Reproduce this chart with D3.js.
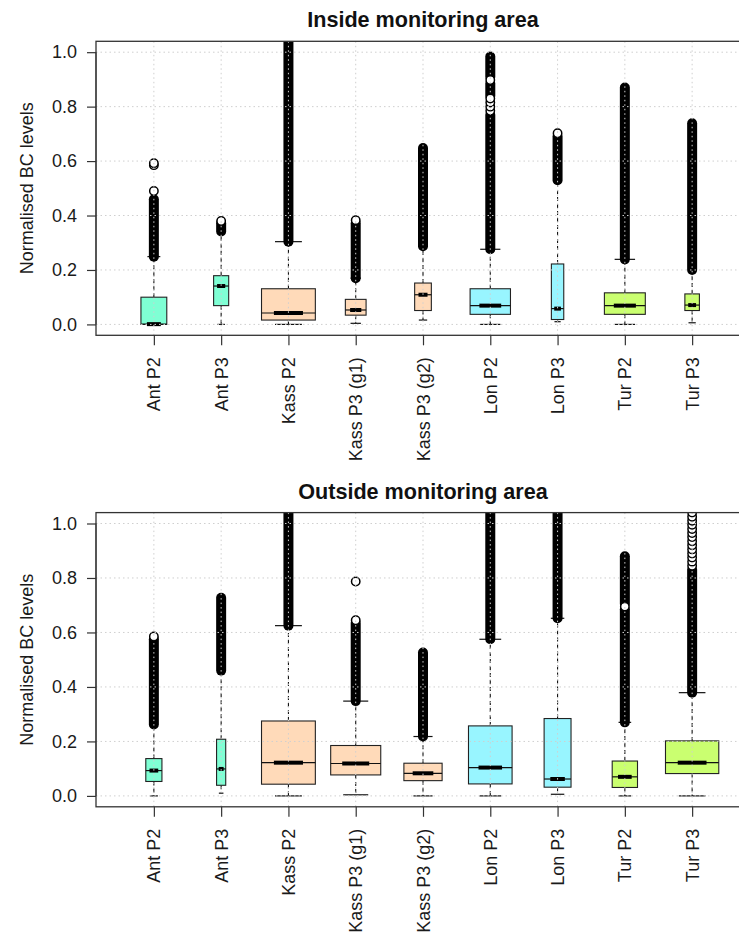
<!DOCTYPE html>
<html>
<head>
<meta charset="utf-8">
<script src="https://cdnjs.cloudflare.com/ajax/libs/d3/7.8.5/d3.min.js"></script>
<style>
  body { margin: 0; background: #fff; }
  svg text { font-family: "Liberation Sans", Arial, Helvetica, sans-serif; }
</style>
</head>
<body>
<svg id="chart" width="739" height="938"></svg>
<script>
// categories, colours, ticks
const sites = ["Ant P2", "Ant P3", "Kass P2", "Kass P3 (g1)", "Kass P3 (g2)", "Lon P2", "Lon P3", "Tur P2", "Tur P3"];
const siteFill = ["#7FFFD4", "#7FFFD4", "#FFDAB9", "#FFDAB9", "#FFDAB9", "#98F5FF", "#98F5FF", "#CAFF70", "#CAFF70"];
const yTicks = [0, 0.2, 0.4, 0.6, 0.8, 1.0];

// inside monitoring area
const inLower = [0, 0, 0, 0.004, 0.016, 0, 0.01, 0, 0.006];
const inQ1 = [0, 0.069, 0.016, 0.034, 0.051, 0.037, 0.018, 0.037, 0.051];
const inMedian = [0.001, 0.141, 0.042, 0.053, 0.109, 0.069, 0.058, 0.069, 0.071];
const inQ3 = [0.1, 0.179, 0.131, 0.092, 0.152, 0.131, 0.222, 0.116, 0.112];
const inUpper = [0.249, 0.341, 0.304, 0.17, 0.287, 0.276, 0.52, 0.239, 0.2];
const inWidth = [0.48, 0.28, 1.0, 0.385, 0.31, 0.75, 0.23, 0.76, 0.27];
const inOutlierRuns = [
  [[0.249, 0.46]],
  [[0.341, 0.372]],
  [[0.304, 1.1]],
  [[0.17, 0.372]],
  [[0.287, 0.648]],
  [[0.276, 0.77], [0.84, 0.885], [0.91, 0.984]],
  [[0.53, 0.69]],
  [[0.239, 0.87]],
  [[0.2, 0.739]],
];
const inOutlierPoints = [
  [0.49, 0.585, 0.592],
  [0.38],
  [],
  [0.383],
  [],
  [0.785, 0.8, 0.815, 0.83, 0.898],
  [0.702],
  [],
  [],
];

// outside monitoring area
const outLower = [0, 0.01, 0, 0.004, 0, 0, 0.006, 0, 0];
const outQ1 = [0.053, 0.039, 0.043, 0.077, 0.056, 0.044, 0.032, 0.031, 0.082];
const outMedian = [0.093, 0.099, 0.122, 0.119, 0.083, 0.104, 0.062, 0.07, 0.122];
const outQ3 = [0.137, 0.208, 0.275, 0.185, 0.12, 0.257, 0.284, 0.128, 0.202];
const outUpper = [0.262, 0.46, 0.625, 0.348, 0.218, 0.575, 0.652, 0.27, 0.379];
const outWidth = [0.3, 0.17, 1.0, 0.93, 0.71, 0.81, 0.5, 0.47, 0.99];
const outOutlierRuns = [
  [[0.262, 0.575]],
  [[0.46, 0.727]],
  [[0.625, 1.1]],
  [[0.348, 0.635]],
  [[0.218, 0.526]],
  [[0.575, 1.1]],
  [[0.652, 1.1]],
  [[0.27, 0.685], [0.705, 0.88]],
  [[0.379, 0.83]],
];
const outOutlierPoints = [
  [0.585],
  [],
  [],
  [0.645, 0.787],
  [],
  [],
  [],
  [0.695],
  [0.845, 0.86, 0.875, 0.89, 0.905, 0.92, 0.935, 0.95, 0.965, 0.98, 0.995, 1.01, 1.025, 1.04],
];

// svg and shared x layout
const svg = d3.select("#chart");
const plotLeft = 96;
const plotRight = 750;
const unit = (plotRight - plotLeft) / 9.72;
const x = d3
  .scalePoint()
  .domain(sites)
  .range([plotLeft + 0.86 * unit, plotRight - 0.86 * unit]);

const drawPanel = (p) => {
  const y = d3.scaleLinear().domain([-0.04, 1.04]).range([p.bottom, p.top]);
  const g = svg.append("g");

  const data = sites.map((site, i) => ({
    site,
    fill: siteFill[i],
    lo: p.lower[i],
    q1: p.q1[i],
    med: p.median[i],
    q3: p.q3[i],
    hi: p.upper[i],
    w: p.width[i] * 0.8 * unit,
    runs: p.runs[i],
    points: p.points[i],
  }));

  const boxes = g
    .selectAll(".box")
    .data(data)
    .join("g")
    .attr("class", "box")
    .attr("transform", (d) => `translate(${x(d.site)},0)`);

  // whiskers
  boxes
    .append("line")
    .attr("y1", (d) => y(d.q3))
    .attr("y2", (d) => y(d.hi))
    .attr("stroke", "#111")
    .attr("stroke-width", 1.1)
    .attr("stroke-dasharray", "4,3");
  boxes
    .append("line")
    .attr("y1", (d) => y(d.q1))
    .attr("y2", (d) => y(d.lo))
    .attr("stroke", "#111")
    .attr("stroke-width", 1.1)
    .attr("stroke-dasharray", "4,3");

  // staples
  boxes
    .selectAll(".staple")
    .data((d) => [
      { v: d.hi, w: d.w },
      { v: d.lo, w: d.w },
    ])
    .join("line")
    .attr("class", "staple")
    .attr("x1", (d) => -d.w / 4)
    .attr("x2", (d) => d.w / 4)
    .attr("y1", (d) => y(d.v))
    .attr("y2", (d) => y(d.v))
    .attr("stroke", "#111")
    .attr("stroke-width", 1.2);

  // box
  boxes
    .append("rect")
    .attr("x", (d) => -d.w / 2)
    .attr("y", (d) => y(d.q3))
    .attr("width", (d) => d.w)
    .attr("height", (d) => y(d.q1) - y(d.q3))
    .attr("fill", (d) => d.fill)
    .attr("stroke", "#222")
    .attr("stroke-width", 1.1);

  // median: thin across, thick in the middle
  boxes
    .append("line")
    .attr("x1", (d) => -d.w / 2)
    .attr("x2", (d) => d.w / 2)
    .attr("y1", (d) => y(d.med))
    .attr("y2", (d) => y(d.med))
    .attr("stroke", "#111")
    .attr("stroke-width", 1.2);
  boxes
    .append("line")
    .attr("x1", (d) => -d.w * 0.27)
    .attr("x2", (d) => d.w * 0.27)
    .attr("y1", (d) => y(d.med))
    .attr("y2", (d) => y(d.med))
    .attr("stroke", "#000")
    .attr("stroke-width", 4);

  // outliers, clipped to plot region
  const clipId = "clip-" + p.id;
  svg
    .append("clipPath")
    .attr("id", clipId)
    .append("rect")
    .attr("x", plotLeft)
    .attr("y", p.top)
    .attr("width", plotRight - plotLeft)
    .attr("height", p.bottom - p.top);

  const outliers = g.append("g").attr("clip-path", `url(#${clipId})`);
  outliers
    .selectAll(".run")
    .data(data.flatMap((d) => d.runs.map((r) => ({ site: d.site, lo: r[0], hi: r[1] }))))
    .join("line")
    .attr("class", "run")
    .attr("x1", (d) => x(d.site))
    .attr("x2", (d) => x(d.site))
    .attr("y1", (d) => y(d.lo))
    .attr("y2", (d) => y(d.hi))
    .attr("stroke", "#000")
    .attr("stroke-width", 10)
    .attr("stroke-linecap", "round");
  outliers
    .selectAll(".pt")
    .data(data.flatMap((d) => d.points.map((v) => ({ site: d.site, v }))))
    .join("circle")
    .attr("class", "pt")
    .attr("cx", (d) => x(d.site))
    .attr("cy", (d) => y(d.v))
    .attr("r", 4.2)
    .attr("fill", "#fff")
    .attr("stroke", "#000")
    .attr("stroke-width", 1.5);

  // dotted grid drawn on top
  const grid = g
    .append("g")
    .attr("stroke", "#cfcfcf")
    .attr("stroke-width", 1)
    .attr("stroke-dasharray", "1.5,3");
  grid
    .selectAll(".hg")
    .data(yTicks)
    .join("line")
    .attr("x1", plotLeft)
    .attr("x2", plotRight)
    .attr("y1", (d) => y(d))
    .attr("y2", (d) => y(d));
  grid
    .selectAll(".vg")
    .data(sites)
    .join("line")
    .attr("x1", (d) => x(d))
    .attr("x2", (d) => x(d))
    .attr("y1", p.top)
    .attr("y2", p.bottom);

  // plot frame
  g.append("rect")
    .attr("x", plotLeft)
    .attr("y", p.top)
    .attr("width", plotRight - plotLeft)
    .attr("height", p.bottom - p.top)
    .attr("fill", "none")
    .attr("stroke", "#333")
    .attr("stroke-width", 1.3);

  // axes
  const yAxis = g
    .append("g")
    .attr("transform", `translate(${plotLeft},0)`)
    .call(d3.axisLeft(y).tickValues(yTicks).tickFormat(d3.format(".1f")).tickSize(9).tickPadding(10));
  yAxis.select(".domain").attr("stroke", "#333").attr("d", `M0,${y(0)}V${y(1)}`);
  yAxis.selectAll(".tick line").attr("stroke", "#333").attr("stroke-width", 1.2);
  yAxis
    .selectAll(".tick text")
    .attr("font-size", 18)
    .attr("font-family", null)
    .attr("fill", "#1a1a1a");

  const xAxis = g
    .append("g")
    .attr("transform", `translate(0,${p.bottom})`)
    .call(d3.axisBottom(x).tickSize(10));
  xAxis.select(".domain").remove();
  xAxis.selectAll(".tick line").attr("stroke", "#333").attr("stroke-width", 1.2);
  xAxis
    .selectAll(".tick text")
    .attr("font-size", 18)
    .attr("font-family", null)
    .attr("fill", "#1a1a1a")
    .attr("x", 0)
    .attr("y", 0)
    .attr("dy", null)
    .attr("transform", "translate(0,22) rotate(-90)")
    .attr("text-anchor", "end")
    .attr("dominant-baseline", "central");

  // labels
  g.append("text")
    .attr("x", (plotLeft + plotRight) / 2)
    .attr("y", p.top - 14)
    .attr("text-anchor", "middle")
    .attr("font-size", 21.6)
    .attr("font-weight", "bold")
    .attr("fill", "#111")
    .text(p.title);

  g.append("text")
    .attr("transform", `translate(33,${(p.top + p.bottom) / 2}) rotate(-90)`)
    .attr("text-anchor", "middle")
    .attr("font-size", 18)
    .attr("fill", "#1a1a1a")
    .text("Normalised BC levels");
};

drawPanel({
  id: "inside",
  title: "Inside monitoring area",
  top: 41.3,
  bottom: 335.3,
  lower: inLower,
  q1: inQ1,
  median: inMedian,
  q3: inQ3,
  upper: inUpper,
  width: inWidth,
  runs: inOutlierRuns,
  points: inOutlierPoints,
});

drawPanel({
  id: "outside",
  title: "Outside monitoring area",
  top: 512.6,
  bottom: 806.8,
  lower: outLower,
  q1: outQ1,
  median: outMedian,
  q3: outQ3,
  upper: outUpper,
  width: outWidth,
  runs: outOutlierRuns,
  points: outOutlierPoints,
});
</script>
</body>
</html>
